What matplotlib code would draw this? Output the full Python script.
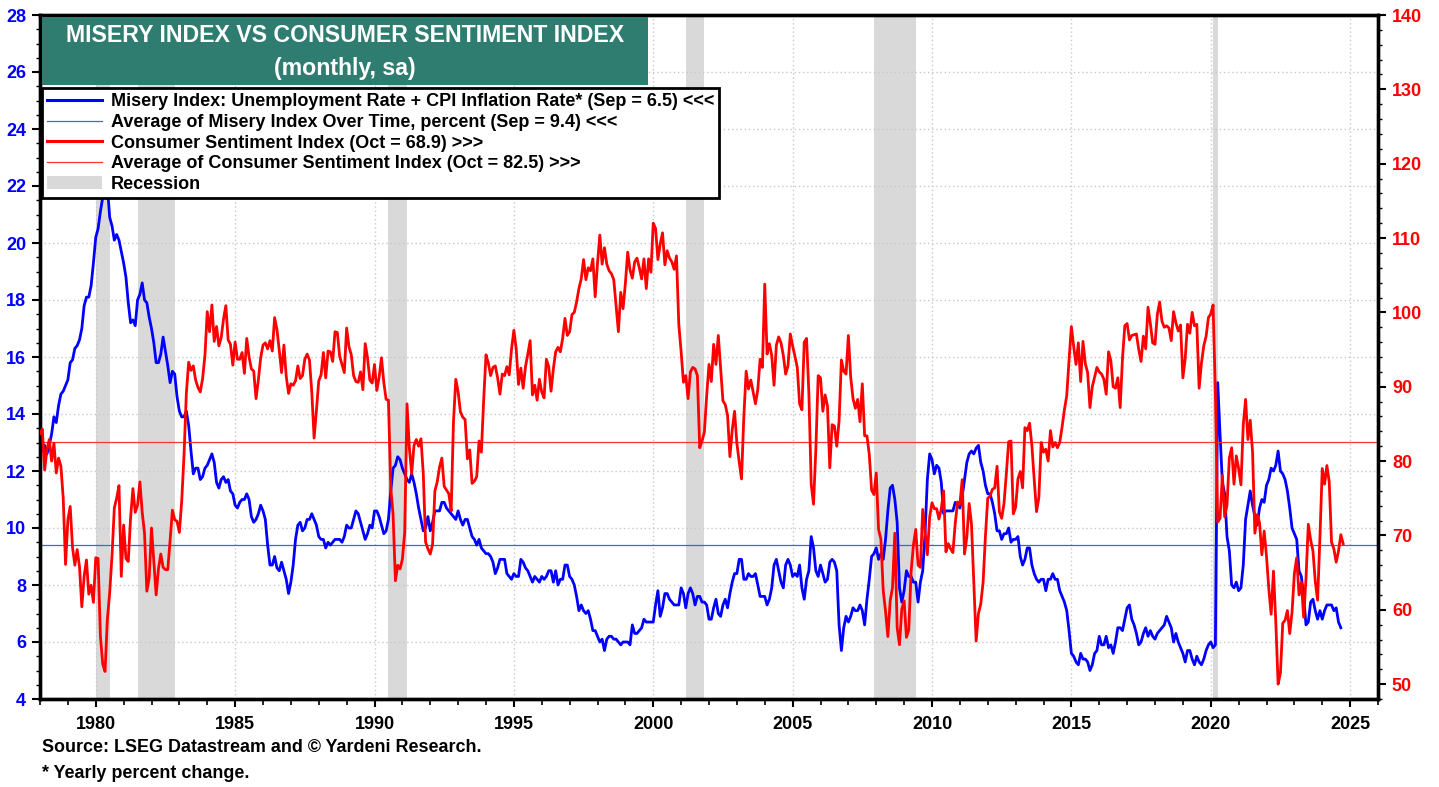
import numpy as np
import pandas as pd
import matplotlib
matplotlib.use('Agg')
import matplotlib.pyplot as plt
from matplotlib.lines import Line2D
from matplotlib.patches import Patch, Rectangle
from matplotlib.ticker import MultipleLocator

plt.rcParams['font.family'] = ['Liberation Sans', 'DejaVu Sans']
plt.rcParams['font.weight'] = 'bold'

# Misery index (unemployment rate + CPI yoy), monthly Jan 1978 - Sep 2024
misery = [
    13.2, 12.7, 12.9, 12.6, 12.9, 13.3, 13.9, 13.7, 14.3, 14.7, 14.8, 15.0,  # 1978
    15.2, 15.8, 15.9, 16.3, 16.4, 16.6, 17.0, 17.8, 18.1, 18.1, 18.5, 19.3,  # 1979
    20.2, 20.5, 21.1, 21.6, 21.9, 22.0, 20.9, 20.6, 20.1, 20.3, 20.1, 19.7,  # 1980
    19.3, 18.8, 17.9, 17.2, 17.3, 17.1, 18.0, 18.2, 18.6, 18.0, 17.9, 17.4,  # 1981
    17.0, 16.5, 15.8, 15.8, 16.1, 16.7, 16.2, 15.7, 15.1, 15.5, 15.4, 14.6,  # 1982
    14.1, 13.9, 13.9, 14.1, 13.6, 12.7, 11.9, 12.1, 12.1, 11.7, 11.8, 12.1,  # 1983
    12.2, 12.4, 12.6, 12.3, 11.6, 11.4, 11.7, 11.8, 11.6, 11.7, 11.3, 11.2,  # 1984
    10.8, 10.7, 10.9, 11.0, 11.0, 11.2, 11.0, 10.4, 10.2, 10.3, 10.5, 10.8,  # 1985
    10.6, 10.3, 9.4, 8.7, 8.7, 9.0, 8.6, 8.5, 8.8, 8.5, 8.2, 7.7,  # 1986
    8.1, 8.7, 9.6, 10.1, 10.2, 9.9, 10.0, 10.3, 10.3, 10.5, 10.3, 10.1,  # 1987
    9.7, 9.6, 9.6, 9.3, 9.5, 9.4, 9.5, 9.6, 9.6, 9.6, 9.5, 9.7,  # 1988
    10.1, 10.0, 10.0, 10.3, 10.6, 10.5, 10.2, 9.9, 9.6, 9.8, 10.1, 10.0,  # 1989
    10.6, 10.6, 10.4, 10.1, 9.8, 9.9, 10.3, 11.3, 12.1, 12.2, 12.5, 12.4,  # 1990
    12.1, 11.9, 11.7, 11.6, 11.9, 11.6, 11.2, 10.7, 10.3, 9.9, 10.0, 10.4,  # 1991
    9.9, 10.2, 10.6, 10.6, 10.6, 10.9, 10.9, 10.7, 10.6, 10.5, 10.4, 10.3,  # 1992
    10.6, 10.3, 10.1, 10.3, 10.3, 10.0, 9.7, 9.6, 9.4, 9.6, 9.3, 9.2,  # 1993
    9.1, 9.1, 9.0, 8.8, 8.4, 8.6, 8.9, 8.9, 8.9, 8.4, 8.3, 8.2,  # 1994
    8.4, 8.3, 8.3, 8.9, 8.8, 8.6, 8.5, 8.3, 8.1, 8.3, 8.2, 8.1,  # 1995
    8.3, 8.2, 8.3, 8.5, 8.5, 8.1, 8.5, 8.0, 8.2, 8.2, 8.7, 8.7,  # 1996
    8.3, 8.2, 8.0, 7.6, 7.1, 7.3, 7.1, 7.0, 7.1, 6.8, 6.4, 6.4,  # 1997
    6.2, 6.0, 6.1, 5.7, 6.1, 6.2, 6.2, 6.1, 6.1, 6.0, 5.9, 6.0,  # 1998
    6.0, 6.0, 5.9, 6.6, 6.3, 6.3, 6.4, 6.5, 6.8, 6.7, 6.7, 6.7,  # 1999
    6.7, 7.3, 7.8, 6.9, 7.2, 7.7, 7.7, 7.5, 7.4, 7.3, 7.3, 7.3,  # 2000
    7.9, 7.7, 7.2, 7.7, 7.9, 7.7, 7.3, 7.6, 7.6, 7.4, 7.4, 7.3,  # 2001
    6.8, 6.8, 7.2, 7.5, 7.0, 6.9, 7.3, 7.5, 7.2, 7.7, 8.1, 8.4,  # 2002
    8.4, 8.9, 8.9, 8.2, 8.2, 8.4, 8.3, 8.3, 8.4, 8.0, 7.6, 7.6,  # 2003
    7.6, 7.3, 7.5, 7.9, 8.7, 8.9, 8.5, 8.1, 7.9, 8.7, 8.9, 8.7,  # 2004
    8.3, 8.4, 8.3, 8.7, 7.9, 7.5, 8.2, 8.5, 9.7, 9.3, 8.5, 8.3,  # 2005
    8.7, 8.4, 8.1, 8.2, 8.8, 8.9, 8.8, 8.5, 6.6, 5.7, 6.5, 6.9,  # 2006
    6.7, 6.9, 7.2, 7.1, 7.1, 7.3, 7.1, 6.6, 7.5, 8.2, 9.0, 9.1,  # 2007
    9.3, 8.9, 9.1, 8.9, 9.6, 10.6, 11.4, 11.5, 11.0, 10.2, 7.9, 7.4,  # 2008
    7.8, 8.5, 8.3, 8.3, 8.1, 8.1, 7.4, 8.1, 8.5, 9.8, 11.7, 12.6,  # 2009
    12.4, 11.9, 12.2, 12.1, 11.6, 10.5, 10.6, 10.6, 10.6, 10.6, 10.9, 10.8,  # 2010
    10.7, 11.1, 11.7, 12.3, 12.6, 12.7, 12.6, 12.8, 12.9, 12.3, 12.0, 11.5,  # 2011
    11.2, 11.2, 10.9, 10.5, 9.9, 9.9, 9.6, 9.8, 9.8, 10.0, 9.5, 9.6,  # 2012
    9.6, 9.7, 9.0, 8.7, 8.9, 9.3, 9.3, 8.7, 8.4, 8.2, 8.1, 8.2,  # 2013
    8.2, 7.8, 8.2, 8.2, 8.4, 8.2, 8.2, 7.8, 7.6, 7.4, 7.1, 6.4,  # 2014
    5.6, 5.5, 5.3, 5.2, 5.6, 5.4, 5.4, 5.3, 5.0, 5.2, 5.6, 5.7,  # 2015
    6.2, 5.9, 5.9, 6.2, 5.8, 5.9, 5.6, 6.0, 6.5, 6.5, 6.4, 6.8,  # 2016
    7.2, 7.3, 6.8, 6.6, 6.3, 5.9, 6.0, 6.3, 6.5, 6.2, 6.4, 6.2,  # 2017
    6.1, 6.3, 6.4, 6.5, 6.6, 6.9, 6.7, 6.5, 6.0, 6.3, 6.0, 5.8,  # 2018
    5.6, 5.3, 5.7, 5.7, 5.4, 5.2, 5.5, 5.3, 5.2, 5.4, 5.7, 5.9,  # 2019
    6.0, 5.8, 5.9, 15.1, 13.3, 11.6, 11.2, 9.7, 9.2, 8.0, 7.9, 8.1,  # 2020
    7.8, 7.9, 8.7, 10.3, 10.8, 11.3, 10.8, 10.4, 10.1, 10.7, 11.0, 10.9,  # 2021
    11.5, 11.7, 12.1, 12.0, 12.2, 12.7, 12.0, 11.9, 11.7, 11.3, 10.7, 10.0,  # 2022
    9.8, 9.6, 8.5, 8.3, 7.6, 6.6, 6.7, 7.4, 7.5, 7.1, 6.8, 7.1,  # 2023
    6.8, 7.1, 7.3, 7.3, 7.3, 7.1, 7.2, 6.7, 6.5,  # 2024
]

# Consumer sentiment index, monthly Jan 1978 - Oct 2024
sentiment = [
    83.7, 84.3, 78.8, 81.6, 82.9, 80.0, 82.4, 78.4, 80.4, 79.3, 75.0, 66.1,  # 1978
    72.1, 73.9, 68.4, 66.0, 68.1, 65.8, 60.4, 64.5, 66.7, 62.1, 63.3, 61.0,  # 1979
    67.0, 66.9, 56.5, 52.7, 51.7, 58.7, 62.3, 67.3, 73.7, 75.0, 76.7, 64.5,  # 1980
    71.4, 66.9, 66.5, 72.4, 76.3, 73.1, 74.1, 77.2, 73.1, 70.3, 62.5, 64.3,  # 1981
    71.0, 66.5, 62.0, 65.5, 67.5, 65.7, 65.4, 65.4, 69.3, 73.4, 72.1, 71.9,  # 1982
    70.4, 74.6, 80.8, 89.1, 93.3, 92.2, 92.8, 90.9, 89.9, 89.3, 91.1, 94.2,  # 1983
    100.1, 97.4, 101.0, 96.1, 98.1, 95.5, 96.6, 99.1, 100.9, 96.3, 95.7, 92.9,  # 1984
    96.0, 93.7, 93.7, 94.6, 91.8, 96.5, 94.0, 92.4, 92.1, 88.4, 90.9, 93.9,  # 1985
    95.6, 95.9, 95.1, 96.2, 94.8, 99.3, 97.7, 94.9, 91.9, 95.6, 91.4, 89.1,  # 1986
    90.4, 90.2, 90.8, 92.8, 91.1, 91.5, 93.7, 94.4, 93.6, 89.3, 83.1, 86.8,  # 1987
    90.8, 91.6, 94.6, 91.2, 94.8, 94.7, 93.4, 97.4, 97.3, 94.1, 93.0, 91.9,  # 1988
    97.9, 95.4, 94.3, 91.5, 90.7, 90.6, 92.0, 89.6, 95.8, 93.9, 90.9, 90.5,  # 1989
    93.0, 89.5, 91.3, 93.9, 90.6, 88.3, 88.2, 76.4, 72.8, 63.9, 66.0, 65.5,  # 1990
    66.8, 70.4, 87.7, 81.8, 78.3, 82.1, 82.9, 82.0, 83.0, 78.3, 69.1, 68.2,  # 1991
    67.5, 68.8, 76.0, 77.2, 79.2, 80.4, 76.6, 76.1, 75.6, 73.3, 85.3, 91.0,  # 1992
    89.3, 86.6, 85.9, 85.6, 80.3, 81.5, 77.0, 77.3, 77.9, 82.7, 81.2, 88.2,  # 1993
    94.3, 93.2, 91.5, 92.6, 92.8, 91.2, 89.0, 91.7, 91.5, 92.7, 91.6, 95.1,  # 1994
    97.6, 95.1, 90.3, 92.5, 89.8, 92.7, 94.4, 96.2, 88.9, 90.2, 88.2, 91.0,  # 1995
    89.3, 88.5, 93.7, 92.7, 89.4, 92.4, 94.7, 95.3, 94.7, 96.5, 99.2, 96.9,  # 1996
    97.4, 99.7, 100.0, 101.4, 103.2, 104.5, 107.1, 104.4, 106.0, 105.6, 107.2, 102.1,  # 1997
    106.6, 110.4, 106.5, 108.7, 106.5, 105.6, 105.2, 104.4, 100.9, 97.4, 102.7, 100.5,  # 1998
    103.9, 108.1, 105.7, 104.6, 106.8, 107.3, 106.0, 104.5, 107.2, 103.2, 107.2, 105.4,  # 1999
    112.0, 111.3, 107.1, 109.2, 110.7, 106.4, 108.3, 107.3, 106.8, 105.8, 107.6, 98.4,  # 2000
    94.7, 90.6, 91.5, 88.4, 92.0, 92.6, 92.4, 91.5, 81.8, 82.7, 83.9, 88.8,  # 2001
    93.0, 90.7, 95.7, 93.0, 96.9, 92.4, 88.1, 87.6, 86.1, 80.6, 84.2, 86.7,  # 2002
    82.4, 79.9, 77.6, 86.0, 92.1, 89.7, 90.9, 89.3, 87.7, 89.6, 93.7, 92.6,  # 2003
    103.8, 94.4, 95.8, 94.2, 90.2, 95.6, 96.7, 95.9, 94.2, 91.7, 92.8, 97.1,  # 2004
    95.5, 94.1, 92.6, 87.7, 86.9, 96.0, 96.5, 89.1, 76.9, 74.2, 81.6, 91.5,  # 2005
    91.2, 86.7, 88.9, 87.4, 79.1, 84.9, 84.7, 82.0, 85.4, 93.6, 92.1, 91.7,  # 2006
    96.9, 91.3, 88.4, 87.1, 88.3, 85.3, 90.4, 83.4, 83.4, 80.9, 76.1, 75.5,  # 2007
    78.4, 70.8, 69.5, 62.6, 59.8, 56.4, 61.2, 63.0, 70.3, 57.6, 55.3, 60.1,  # 2008
    61.2, 56.3, 57.3, 65.1, 68.7, 70.8, 66.0, 65.7, 73.5, 70.6, 67.4, 72.5,  # 2009
    74.4, 73.6, 73.6, 72.2, 73.6, 76.0, 67.8, 68.9, 68.2, 67.7, 71.6, 74.5,  # 2010
    74.2, 77.5, 67.5, 69.8, 74.3, 71.5, 63.7, 55.8, 59.5, 60.8, 63.7, 69.9,  # 2011
    75.0, 75.3, 76.2, 76.4, 79.3, 73.2, 72.3, 74.3, 78.3, 82.6, 82.7, 72.9,  # 2012
    73.8, 77.6, 78.6, 76.4, 84.5, 84.1, 85.1, 82.1, 77.5, 73.2, 75.1, 82.5,  # 2013
    81.2, 81.6, 80.0, 84.1, 81.9, 82.5, 81.8, 82.5, 84.6, 86.9, 88.8, 93.6,  # 2014
    98.1, 95.4, 93.0, 95.9, 90.7, 96.1, 93.1, 91.9, 87.2, 90.0, 91.3, 92.6,  # 2015
    92.0, 91.7, 91.0, 89.0, 94.7, 93.5, 90.0, 89.8, 91.2, 87.2, 93.8, 98.2,  # 2016
    98.5, 96.3, 96.9, 97.0, 97.1, 95.0, 93.4, 96.8, 95.1, 100.7, 98.5, 95.9,  # 2017
    95.7, 99.7, 101.4, 98.8, 98.0, 98.2, 97.9, 96.2, 100.1, 98.6, 97.5, 98.3,  # 2018
    91.2, 93.8, 98.4, 97.2, 100.0, 98.2, 98.4, 89.8, 93.2, 95.5, 96.8, 99.3,  # 2019
    99.8, 101.0, 89.1, 71.8, 72.3, 78.1, 72.5, 74.1, 80.4, 81.8, 76.9, 80.7,  # 2020
    79.0, 76.8, 84.9, 88.3, 82.9, 85.5, 81.2, 70.3, 72.8, 71.7, 67.4, 70.6,  # 2021
    67.2, 62.8, 59.4, 65.2, 58.4, 50.0, 51.5, 58.2, 58.6, 59.9, 56.8, 59.7,  # 2022
    64.9, 67.0, 62.0, 63.7, 59.0, 64.2, 71.5, 69.4, 67.9, 63.8, 61.3, 69.7,  # 2023
    79.0, 76.9, 79.4, 77.2, 69.1, 68.2, 66.4, 67.9, 70.1, 68.9,  # 2024
]

misery_avg = 9.4
sentiment_avg = 82.5

# NBER recessions (decimal years)
recessions = [(1980.0, 1980.5), (1981.5, 1982.83), (1990.5, 1991.17),
              (2001.17, 2001.83), (2007.92, 2009.42), (2020.08, 2020.25)]

year_ticks = [1980, 1985, 1990, 1995, 2000, 2005, 2010, 2015, 2020, 2025]

legend_labels = [
    'Misery Index: Unemployment Rate + CPI Inflation Rate* (Sep = 6.5) <<<',
    'Average of Misery Index Over Time, percent (Sep = 9.4) <<<',
    'Consumer Sentiment Index (Oct = 68.9) >>>',
    'Average of Consumer Sentiment Index (Oct = 82.5) >>>',
    'Recession',
]

d1 = pd.date_range('1978-01-01', periods=len(misery), freq='MS')
d2 = pd.date_range('1978-01-01', periods=len(sentiment), freq='MS')
x1 = d1.year + (d1.month - 1) / 12
x2 = d2.year + (d2.month - 1) / 12

BLUE = '#0000FF'
RED = '#FF0000'
W, H = 1439, 787

fig = plt.figure(figsize=(W / 100, H / 100), dpi=100)
ax = fig.add_axes([40 / W, 1 - 699 / H, (1378 - 40) / W, (699 - 15) / H])
ax2 = ax.twinx()

for a, b in recessions:
    ax.axvspan(a, b, color='#D9D9D9', lw=0, zorder=0)

ax.set_xlim(1978, 2026)
ax.set_ylim(4, 28)
ax2.set_ylim(48, 140)

# grid
for y in range(6, 28, 2):
    ax.axhline(y, color='#C8C8C8', lw=1.0, ls=(0, (1, 2)), zorder=0.5)
for yr in year_ticks:
    ax.axvline(yr, color='#C8C8C8', lw=1.0, ls=(0, (1, 2)), zorder=0.5)

ax.axhline(misery_avg, color='#5555FF', lw=0.9, zorder=2)
ax.plot(x1, misery, color=BLUE, lw=2.0, zorder=3)
ax2.axhline(sentiment_avg, color='#FF3333', lw=0.9, zorder=2)
ax2.plot(x2, sentiment, color=RED, lw=2.0, zorder=3)

ax.set_xticks(year_ticks)
ax.xaxis.set_minor_locator(MultipleLocator(1))
ax.yaxis.set_major_locator(MultipleLocator(2))
ax.yaxis.set_minor_locator(MultipleLocator(0.5))
ax2.yaxis.set_major_locator(MultipleLocator(10))
ax2.yaxis.set_minor_locator(MultipleLocator(2))
ax2.set_yticks(range(50, 141, 10))

ax.tick_params(axis='x', which='major', length=6, width=1.5, labelsize=13, pad=6, colors='black')
ax.tick_params(axis='x', which='minor', length=4, width=1.2)
ax.tick_params(axis='y', which='major', length=6, width=1.5, labelsize=13, pad=4, labelcolor=BLUE)
ax.tick_params(axis='y', which='minor', length=3, width=1.0)
ax2.tick_params(axis='y', which='major', length=6, width=1.5, labelsize=13, pad=4, labelcolor=RED)
ax2.tick_params(axis='y', which='minor', length=3, width=1.0)

for a in (ax, ax2):
    for s in a.spines.values():
        s.set_linewidth(2.4)
        s.set_color('black')

# legend
handles = [
    Line2D([], [], color=BLUE, lw=2.2),
    Line2D([], [], color='#5555FF', lw=0.9),
    Line2D([], [], color=RED, lw=2.2),
    Line2D([], [], color='#FF3333', lw=0.9),
    Patch(facecolor='#D9D9D9', edgecolor='none'),
]
leg = ax2.legend(handles, legend_labels, loc='upper left',
                 bbox_to_anchor=(42 / W, 1 - 88 / H), bbox_transform=fig.transFigure,
                 fontsize=13, frameon=True, fancybox=False, handlelength=3.0,
                 handletextpad=0.5, labelspacing=0.2, borderpad=0.3,
                 borderaxespad=0, framealpha=1)
leg.get_frame().set_edgecolor('black')
leg.get_frame().set_linewidth(2.0)
leg.set_zorder(10)

# title box
fig.add_artist(Rectangle((42 / W, 1 - 85 / H), 606 / W, 68 / H, transform=fig.transFigure,
                         facecolor='#2E7D70', edgecolor='none', zorder=5))
fig.text(345 / W, 1 - 36 / H, 'MISERY INDEX VS CONSUMER SENTIMENT INDEX', color='white',
         fontsize=16.7, ha='center', va='center', zorder=6)
fig.text(345 / W, 1 - 68 / H, '(monthly, sa)', color='white',
         fontsize=16.7, ha='center', va='center', zorder=6)

fig.text(42 / W, 1 - 748 / H, 'Source: LSEG Datastream and \u00a9 Yardeni Research.',
         fontsize=12.9, ha='left', va='center')
fig.text(42 / W, 1 - 773 / H, '* Yearly percent change.', fontsize=12.9, ha='left', va='center')

fig.savefig('out.png', dpi=100)
